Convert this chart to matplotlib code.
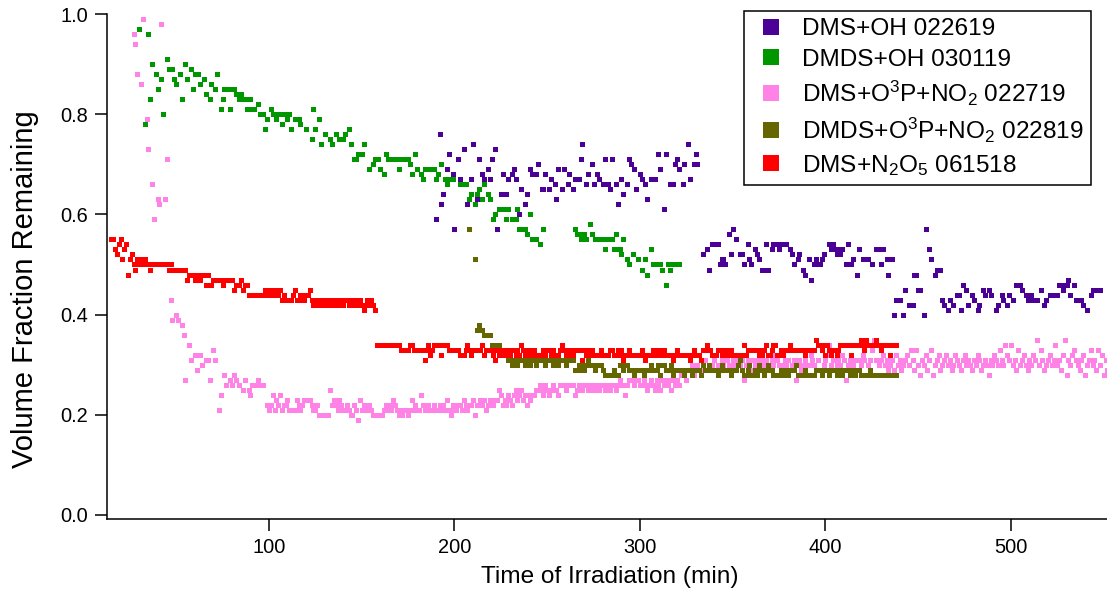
import numpy as np
import matplotlib
matplotlib.use("Agg")
import matplotlib.pyplot as plt

N = None  # no point at that minute

# values in hundredths, one point per minute, first minute given by *_t0
dms_oh_t0 = 190
dms_oh = [
    59, N, 76, 62, 64, N, 69, 72, N, 68,
    57, N, 71, 67, N, 73, N, 62, N, 67,
    74, N, 63, 71, N, 68, 67, N, 69, 67,
    71, N, 73, 57, N, 64, 68, N, 64, 67,
    N, 68, 69, 67, N, 60, 65, N, 62, 64,
    N, 69, 68, 68, 68, 70, N, 65, 65, 68,
    N, 65, 67, N, 66, 63, 69, N, 65, 69,
    N, 66, 68, N, 65, 67, 67, 67, 71, 74,
    N, 66, 68, N, 70, 66, N, 68, 67, N,
    66, 71, 66, 66, 65, 71, N, 66, 62, N,
    67, 64, N, 66, 71, 70, N, 69, 65, N,
    68, 67, N, 66, 63, N, 67, 67, 67, N,
    72, 69, N, 61, 72, N, 66, 66, 66, 70,
    71, 69, N, 66, 70, N, 74, 67, N, 70,
    72, 70, N, N, 52, N, 53, 49, N, 54,
    54, 54, 54, 50, 51, 51, 50, N, 56, 52,
    57, N, 55, N, 52, 52, 50, N, 54, 51,
    50, N, 53, 52, 51, N, 49, 49, 54, 49,
    N, 53, 54, 54, 54, 53, 54, 54, 54, 54,
    N, 53, 52, 50, N, 51, 52, N, 49, 48,
    N, 51, 47, N, 50, 51, 50, 50, 51, 52,
    N, N, 54, 53, 54, 53, 52, 53, 52, 53,
    N, 50, 54, 50, 50, 51, N, 48, 53, N,
    51, 51, 51, 51, N, 50, N, 53, 53, 53,
    50, 53, N, 51, 48, 51, 51, 40, 43, 43,
    43, N, 40, 45, N, 42, 42, 42, 48, 48,
    45, 45, N, 40, 57, N, 53, 51, N, 48,
    49, 49, 49, 43, 42, N, 41, 43, N, 42,
    N, 44, 44, 41, 46, N, 45, 42, N, 44,
    43, N, 41, 42, N, 45, 44, N, 45, 44,
    N, N, 41, 42, N, 44, 43, N, 42, 44,
    N, 43, N, 46, 46, 46, 45, N, 44, 43,
    N, 44, 43, N, 43, N, 45, N, 42, 43,
    N, 44, 44, 44, 44, 44, 46, 46, 45, 46,
    46, 47, 44, N, 46, 43, 43, 43, 43, 42,
    N, 41, N, 44, 45, 45, 45, 45, 45,
]

dmds_oh_t0 = 30
dmds_oh = [
    97, N, N, 78, N, 96, 83, 90, N, 88,
    85, N, 87, 80, N, 91, 89, 89, 89, 87,
    86, N, 88, 83, N, 90, 87, N, 89, 85,
    88, 88, 88, 86, N, 87, 84, N, 83, 86,
    N, 85, 88, N, 81, 83, 85, 85, 85, 81,
    85, 85, 84, 84, 83, 84, 83, 83, 81, 83,
    83, 81, 81, N, 82, 80, 80, 80, 77, 79,
    N, 81, 80, N, 79, 80, 80, 78, 80, 80,
    79, 80, 77, N, 79, 79, 79, 78, N, N,
    77, N, N, 75, 81, 77, N, 79, 74, N,
    76, N, N, 75, 74, N, 76, N, 75, 75,
    75, 76, N, 77, 74, N, 71, 71, 72, 72,
    72, 74, N, N, 69, N, 70, 71, 71, 71,
    69, N, 68, 72, 71, 71, 71, 71, 71, 71,
    69, 71, 71, 71, 71, 71, 70, 68, N, 72,
    69, N, 68, 67, 69, 69, 69, 69, 69, 69,
    67, 68, N, 70, N, 67, 66, 67, 67, 67,
    N, N, N, 66, 66, 66, 66, N, 63, 64,
    N, 62, 64, 65, N, 63, 66, N, 64, 63,
    N, 59, 60, N, 61, 61, 61, N, 59, 61,
    N, 59, 59, 59, 61, 57, 57, 57, 57, 56,
    N, 60, 55, 55, 55, N, 54, N, 57, N,
    N, N, N, N, N, N, N, N, N, N,
    N, N, N, N, N, 57, 56, 56, 55, 56,
    56, 55, N, 58, 56, N, 55, 55, 55, 55,
    55, 53, 55, 55, 55, 55, 53, 56, 53, 53,
    52, 55, N, 51, 50, N, 52, N, N, 51,
    N, 49, N, 51, 48, N, 53, 50, 50, 50,
    50, 50, 49, N, 46, 50, 49, 50, 50, 50,
    50, 50,
]

dms_o3p_t0 = 27
dms_o3p = [
    96, 94, 88, N, 86, 99, N, 79, 73, N,
    66, 59, N, 63, 62, 98, N, 63, 71, N,
    43, 39, N, 40, 39, N, 38, 36, 27, N,
    34, 31, N, 32, 29, N, 32, 30, N, 31,
    31, 27, N, 33, 31, N, 21, 24, N, 28,
    26, N, 27, 26, 28, 27, N, 26, N, 25,
    27, N, 25, 24, 26, 26, 26, 27, 26, 26,
    26, N, 22, 21, 22, 24, 21, 23, 22, 24,
    21, 22, 22, 23, 21, 21, 21, 21, 23, 22,
    21, 22, 23, 23, 23, 23, 22, 21, 21, 22,
    20, 20, 20, 20, 20, 20, 25, 22, 23, 22,
    21, 23, 22, 21, 21, 22, 21, 20, 20, 22,
    21, 19, 23, 21, 22, 21, 21, 22, 21, 20,
    20, 20, 20, 20, 20, 21, 22, 21, 22, 21,
    23, 22, 21, 20, 21, 20, 21, 21, 20, 21,
    23, 21, 22, 21, 21, 24, 22, 21, 21, 22,
    21, 21, 22, 21, 21, 22, 21, 22, 21, 23,
    21, 20, 22, 21, 21, 22, 22, 21, 23, 22,
    21, 22, 22, 23, 20, 22, 22, 23, 22, 23,
    21, 22, 23, 22, 22, 23, 23, 25, 24, 22,
    23, 22, 24, 23, 22, 24, 25, 23, 24, 25,
    23, 24, 22, 24, 23, 24, 24, 25, 25, 26,
    25, 24, 26, 25, 24, 25, 26, 25, 25, 24,
    26, 26, 26, 25, 26, 26, 26, 26, 24, 25,
    26, 25, 25, 26, 26, 25, 26, 25, 25, 26,
    26, 25, 26, 26, 25, 26, 26, 25, 26, 26,
    25, 26, 27, 26, 26, 24, 26, 27, 27, 27,
    26, 27, 27, 26, 26, 27, 26, 25, 26, 27,
    26, 25, 27, 26, 25, 27, 26, 27, 26, 27,
    25, 27, 26, 27, 26, 28, 28, 28, 27, 29,
    29, 30, 28, 29, 30, 29, 29, 30, 31, 29,
    30, 29, 30, 31, 29, 30, 30, 31, 30, 29,
    31, 30, 30, 31, 30, 29, 31, 30, 31, 27,
    30, 31, 30, 29, 31, 30, 31, 30, 29, 31,
    30, 31, 32, 30, 31, 30, 32, 31, 30, 29,
    30, 31, 30, 31, 29, 30, 31, 27, 30, 31,
    29, 30, 31, 30, 30, 32, 31, 30, 29, 31,
    34, 33, 30, 31, 32, 34, 30, 31, 29, 30,
    31, 30, 32, 31, 27, 30, 31, 32, 30, 31,
    29, 31, 30, 32, 31, 34, 30, 31, 33, 35,
    31, 34, 30, 31, 32, 30, 31, 29, 30, 31,
    29, 32, 30, 31, 29, 30, 31, 32, 30, 33,
    31, 29, 33, 30, 28, 31, 30, 32, 29, 31,
    33, 28, 30, 31, 32, 29, 30, 31, 32, 30,
    31, 29, 30, 32, 31, 30, 29, 31, 32, 30,
    31, 30, 29, 31, 30, 32, 31, 29, 30, 31,
    30, 28, 31, 30, 32, 31, 30, 33, 31, 30,
    34, 32, 31, 34, 30, 31, 29, 33, 30, 31,
    32, 30, 29, 31, 30, 32, 31, 35, 30, 33,
    31, 29, 30, 31, 32, 30, 31, 34, 30, 31,
    29, 32, 35, 28, 31, 30, 32, 33, 31, 30,
    29, 31, 32, 28, 30, 31, 33, 30, 31, 29,
    33, 30, 32, 28, 31, 29,
]

dmds_o3p_t0 = 208
dmds_o3p = [
    57, N, N, 51, 37, 38, 37, 37, 36, 36,
    36, 36, 34, 34, 34, 34, 34, 33, 33, 32,
    32, 31, 31, 30, 31, 31, 30, 31, 31, 31,
    30, 31, 31, 30, 31, 31, 30, 31, 31, 31,
    31, 30, 31, 31, 31, 30, 31, 31, 30, 31,
    31, 31, 30, 31, 31, 31, 31, 29, 29, 30,
    29, 30, 29, 30, 31, 30, 30, 30, 29, 30,
    30, 30, 29, 28, 28, 28, 28, 28, 29, 28,
    28, 30, 30, 29, 30, 30, 29, 29, 29, 28,
    29, 29, 29, 29, 28, 29, 29, 29, 30, 29,
    29, 29, 30, 28, 30, 30, 29, 29, 29, 30,
    28, 29, 29, 29, 29, 29, 28, 29, 29, 29,
    28, 29, 29, 29, 29, 28, 30, 29, 29, 30,
    29, 29, 29, 29, 28, 29, 30, 29, 29, 29,
    29, 28, 29, 29, 29, 30, 31, 29, 28, 28,
    29, 30, 28, 28, 29, 28, 30, 29, 29, 28,
    29, 30, 29, 29, 28, 28, 28, 28, 29, 28,
    29, 28, 28, 29, 29, 29, 30, 28, 28, 28,
    28, 29, 28, 28, 28, 28, 28, 29, 29, 29,
    28, 29, 29, 29, 28, 29, 29, 29, 28, 29,
    29, 28, 29, 29, 29, 28, 29, 29, 28, 29,
    29, 28, 28, 28, 28, 28, 29, 28, 28, 28,
    28, 28, 28, 28, 28, 28, 28, 28, 28, 28,
    28,
]

dms_n2o5_t0 = 15
dms_n2o5 = [
    55, 55, 53, 52, 54, 55, 51, 53, 54, 48,
    51, 52, 50, 49, 51, 50, 51, 50, 51, 50,
    50, 49, 50, 50, 50, 50, 50, 50, 50, 50,
    50, 49, 50, 49, 49, 49, 49, 49, 49, 49,
    49, 47, 48, 48, 48, 47, 48, 48, 47, 48,
    48, 46, 48, 46, 46, 47, 47, 47, 47, 47,
    46, 47, 47, 47, 47, 47, 45, 46, 46, 46,
    47, 45, 46, 46, 44, 44, 44, 44, 44, 44,
    44, 44, 44, 45, 44, 45, 44, 45, 44, 45,
    44, 45, 43, 44, 43, 43, 43, 43, 44, 45,
    43, 43, 44, 44, 43, 44, 44, 45, 43, 42,
    43, 42, 43, 42, 43, 42, 43, 42, 43, 42,
    43, 42, 42, 43, 43, 42, 43, 43, 42, 42,
    43, 42, 43, 42, 43, 42, 41, 42, 43, 42,
    43, 42, 41, 34, 34, 34, 34, 34, 34, 34,
    34, 34, 34, 34, 34, 34, 33, 33, 33, 33,
    33, 34, 34, 33, 33, 33, 33, 33, 33, 31,
    33, 34, 32, 33, 34, 34, 34, 34, 32, 34,
    34, 34, 33, 33, 33, 33, 33, 33, 32, 32,
    32, 33, 34, 33, 32, 33, 33, 33, 33, 33,
    34, 32, 33, 33, 33, 33, 32, 31, 33, 32,
    33, 32, 33, 32, 33, 32, 33, 33, 32, 33,
    32, 34, 33, 32, 33, 32, 33, 32, 33, 32,
    32, 32, 32, 33, 32, 33, 33, 32, 33, 32,
    32, 32, 33, 34, 33, 32, 33, 32, 33, 32,
    33, 33, 33, 33, 31, 33, 32, 33, 32, 33,
    32, 32, 32, 32, 33, 32, 32, 32, 32, 33,
    33, 32, 32, 33, 32, 33, 31, 32, 32, 33,
    32, 32, 32, 32, 32, 32, 33, 32, 31, 32,
    32, 32, 33, 32, 33, 32, 33, 32, 33, 32,
    32, 32, 32, 31, 32, 33, 32, 32, 32, 32,
    32, 32, 31, 32, 33, 32, 32, 32, 31, 33,
    33, 34, 33, 33, 32, 32, 32, 33, 33, 32,
    33, 32, 33, 32, 33, 32, 32, 32, 32, 32,
    32, 34, 32, 33, 33, 33, 33, 33, 33, 32,
    33, 32, 33, 34, 32, 32, 33, 34, 34, 32,
    32, 33, 32, 33, 33, 33, 34, 33, 33, 33,
    33, 33, 33, 33, 32, 33, 33, 33, 33, 33,
    35, 34, 34, 33, 34, 32, 34, 33, 32, 33,
    33, 32, 33, 34, 34, 34, 34, 34, 34, 32,
    34, 34, 34, 34, 35, 34, 33, 35, 34, 34,
    34, 34, 35, 34, 34, 33, 34, 34, 34, 34,
    32, 34, 34, 34,
]

labels = [
    "DMS+OH 022619",
    "DMDS+OH 030119",
    "DMS+O$^3$P+NO$_2$ 022719",
    "DMDS+O$^3$P+NO$_2$ 022819",
    "DMS+N$_2$O$_5$ 061518",
]
colors = ["#4B0096", "#009600", "#FF82E6", "#666600", "#FF0000"]


def series(t0, vals):
    y = np.array(vals, dtype=float) / 100.0
    t = t0 + np.arange(len(y))
    return t, y


plt.rcParams["font.family"] = "Liberation Sans"
plt.rcParams["mathtext.fontset"] = "custom"
plt.rcParams["mathtext.rm"] = "Liberation Sans"
plt.rcParams["mathtext.it"] = "Liberation Sans:italic"

fig = plt.figure(figsize=(11.07, 6.01), dpi=100)
ax = fig.add_axes([107 / 1107, 82 / 601, 1000 / 1107, 505 / 601])

all_series = [
    (dms_oh_t0, dms_oh),
    (dmds_oh_t0, dmds_oh),
    (dms_o3p_t0, dms_o3p),
    (dmds_o3p_t0, dmds_o3p),
    (dms_n2o5_t0, dms_n2o5),
]
for (t0, vals), lab, col in zip(all_series, labels, colors):
    t, y = series(t0, vals)
    ax.plot(t, y, linestyle="none", marker="s", markersize=3.6,
            markeredgewidth=0, color=col, label=lab)

ax.set_xlim(12.7, 551.8)
ax.set_ylim(-0.008, 1.0)
ax.set_xticks([100, 200, 300, 400, 500])
ax.set_yticks([0.0, 0.2, 0.4, 0.6, 0.8, 1.0])
ax.set_yticklabels(["0.0", "0.2", "0.4", "0.6", "0.8", "1.0"])

for s in ["top", "right"]:
    ax.spines[s].set_visible(False)
for s in ["left", "bottom"]:
    ax.spines[s].set_linewidth(1.1)
ax.tick_params(direction="out", length=8.6, width=1.1, labelsize=14.4, pad=5)

ax.set_xlabel("Time of Irradiation (min)", fontsize=17.6)
ax.xaxis.set_label_coords(0.503, -0.093)
ax.set_ylabel("Volume Fraction Remaining", fontsize=21)
ax.yaxis.set_label_coords(-0.068, 0.455)

leg = ax.legend(loc="upper right", bbox_to_anchor=(1091 / 1107, 590 / 601),
                bbox_transform=fig.transFigure, fontsize=17.6, frameon=True,
                fancybox=False, framealpha=1, edgecolor="black",
                borderaxespad=0, numpoints=1, markerscale=3.2,
                handlelength=1.63, handletextpad=0.45, borderpad=0.3,
                labelspacing=0.33)
leg.get_frame().set_linewidth(1.1)

fig.savefig("out.png", dpi=100)
